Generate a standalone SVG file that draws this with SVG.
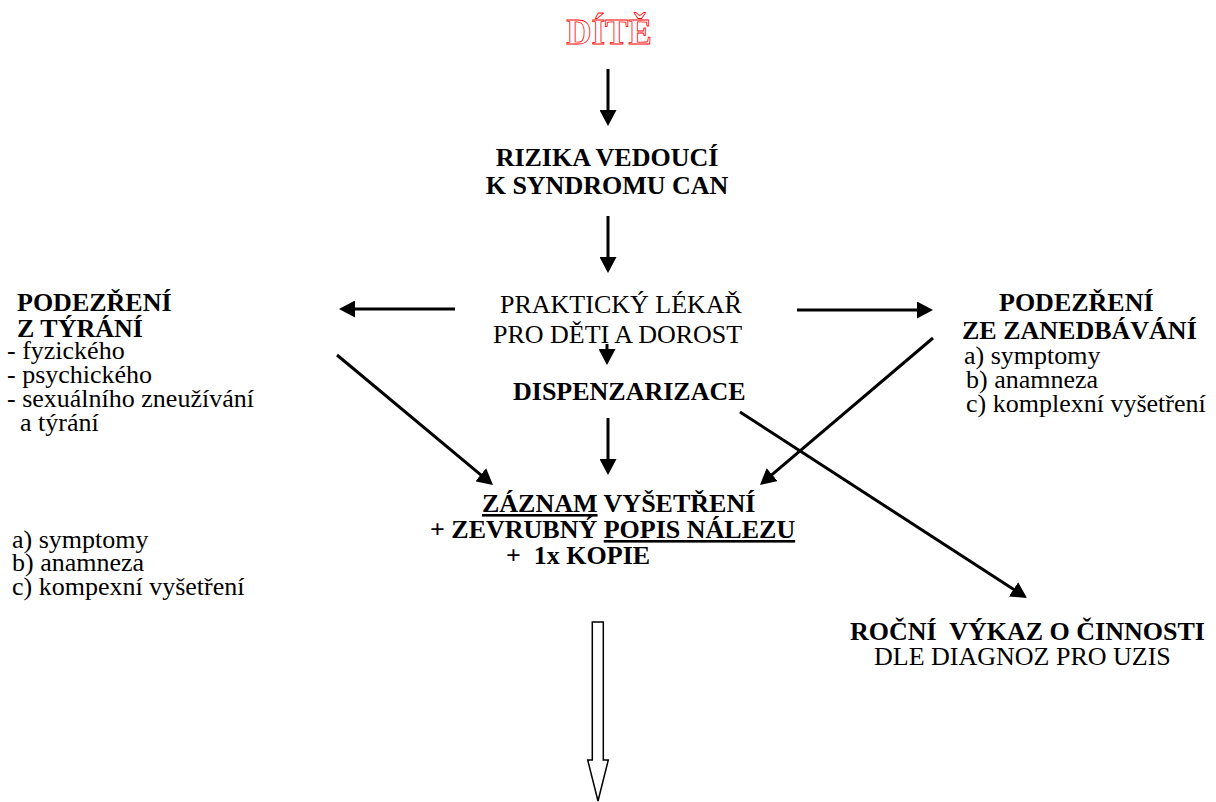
<svg xmlns="http://www.w3.org/2000/svg" width="1216" height="802" viewBox="0 0 1216 802">
<style>
text{font-family:"Liberation Serif","Times New Roman","DejaVu Serif",serif;font-size:26px;fill:#000;white-space:pre}
.b{font-weight:bold}
.title{font-size:35px;font-weight:bold;fill:#fff;stroke:#f00;stroke-width:0.8}
.c{stroke:#000;stroke-width:3;fill:none;marker-end:url(#ah)}
.u{text-decoration:underline}
</style>
<defs>
<marker id="ah" viewBox="0 0 16 17" refX="4" refY="8.5" markerWidth="16" markerHeight="17" markerUnits="userSpaceOnUse" orient="auto">
<path d="M0,0 L16,8.5 L0,17 z" fill="#000"/>
</marker>
</defs>
<rect width="1216" height="802" fill="#fff"/>
<g id="connectors">
<line class="c" x1="608" y1="69" x2="608" y2="114"/>
<line class="c" x1="608" y1="216" x2="608" y2="261"/>
<line class="c" x1="455" y1="309" x2="351" y2="309"/>
<line class="c" x1="797" y1="310" x2="921" y2="310"/>
<line class="c" x1="607" y1="344" x2="607" y2="353"/>
<line class="c" x1="608" y1="418" x2="608" y2="463"/>
<line class="c" x1="337" y1="355" x2="483.8" y2="477.3"/>
<line class="c" x1="933" y1="338" x2="769.1" y2="477.2"/>
<line class="c" x1="740" y1="412" x2="1016.9" y2="591.5"/>
<path d="M592.3,622 L603.3,622 L603.3,760 L608.3,760 L598,801 L587.7,760 L592.3,760 Z" fill="#fff" stroke="#000" stroke-width="1.5"/>
</g>
<g id="dite"><text class="title" x="609" y="44" text-anchor="middle">DÍTĚ</text></g>
<g id="rizika">
<text class="b" x="607" y="166" text-anchor="middle">RIZIKA VEDOUCÍ</text>
<text class="b" x="607" y="194" text-anchor="middle">K SYNDROMU CAN</text>
</g>
<g id="lekar">
<text x="500" y="313">PRAKTICKÝ LÉKAŘ</text>
<text x="493" y="343">PRO DĚTI A DOROST</text>
</g>
<g id="dispenzarizace"><text class="b" x="513" y="400">DISPENZARIZACE</text></g>
<g id="tyrani">
<text class="b" x="17" y="311">PODEZŘENÍ</text>
<text class="b" x="17" y="337">Z TÝRÁNÍ</text>
<text x="7" y="359">- fyzického</text>
<text x="7" y="383">- psychického</text>
<text x="7" y="407">- sexuálního zneužívání</text>
<text x="20" y="431">a týrání</text>
</g>
<g id="tyrani-list">
<text x="12" y="548">a) symptomy</text>
<text x="12" y="571">b) anamneza</text>
<text x="12" y="595">c) kompexní vyšetření</text>
</g>
<g id="zanedbavani">
<text class="b" x="999" y="311">PODEZŘENÍ</text>
<text class="b" x="962" y="339">ZE ZANEDBÁVÁNÍ</text>
<text x="964" y="364">a) symptomy</text>
<text x="966" y="388">b) anamneza</text>
<text x="966" y="412">c) komplexní vyšetření</text>
</g>
<g id="zaznam">
<text class="b" x="482" y="512"><tspan class="u">ZÁZNAM</tspan> VYŠETŘENÍ</text>
<text class="b" x="430" y="538">+ ZEVRUBNÝ <tspan class="u">POPIS NÁLEZU</tspan></text>
<text class="b" x="506" y="564">+  1x KOPIE</text>
</g>
<g id="vykaz">
<text class="b" x="850" y="640">ROČNÍ  VÝKAZ O ČINNOSTI</text>
<text x="874" y="665">DLE DIAGNOZ PRO UZIS</text>
</g>
</svg>
